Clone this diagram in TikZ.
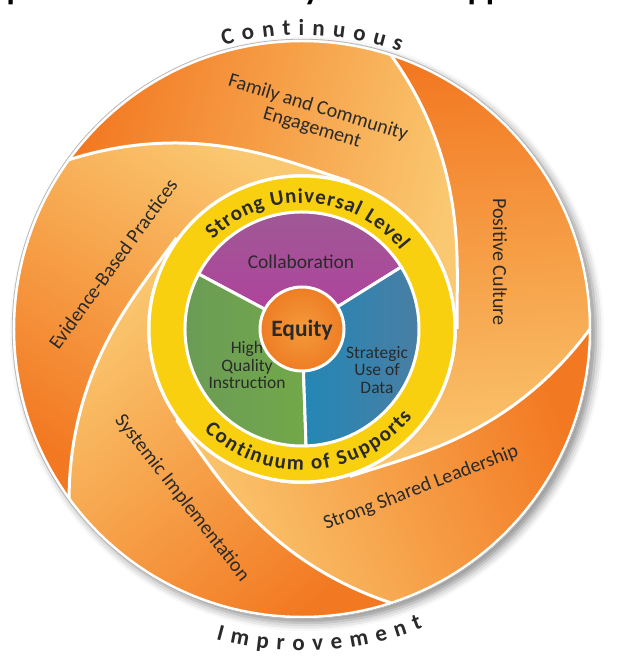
\documentclass[tikz,border=0pt]{standalone}
\usepackage{fontspec}
\setmainfont{Carlito}
\usetikzlibrary{decorations.text,shadows.blur}

\definecolor{bladedark}{HTML}{F27821}
\definecolor{blademid}{HTML}{F6A046}
\definecolor{bladelight}{HTML}{FAC870}
\definecolor{ringgold}{HTML}{F9D00F}
\definecolor{collabtop}{HTML}{9D5C94}
\definecolor{collabbot}{HTML}{B23F9D}
\definecolor{instrleft}{HTML}{6A9A58}
\definecolor{instrright}{HTML}{72A849}
\definecolor{dataleft}{HTML}{2387B6}
\definecolor{dataright}{HTML}{4A7EA3}
\definecolor{equityin}{HTML}{F49A3C}
\definecolor{equityout}{HTML}{EE7D24}
\definecolor{inktext}{HTML}{2A2A2A}

\newcommand{\bladefont}{\fontsize{20}{21}\selectfont}
\newcommand{\piefont}{\fontsize{17.5}{17.5}\selectfont}
\newcommand{\ringfont}{\bfseries\fontsize{21}{21}\selectfont}
\newcommand{\rimfont}{\bfseries\fontsize{23}{23}\selectfont}

\begin{document}
\begin{tikzpicture}[x=1pt, y=1pt,
        blade/.style={top color=bladedark, middle color=blademid,
          bottom color=bladelight, shading angle=#1},
        swirl/.style={draw=white, line width=3pt},
        piesector/.style={draw=white, line width=3pt},
        bladetext/.style={text=inktext, font=\bladefont, align=center, inner sep=0pt},
        pietext/.style={text=inktext, font=\piefont, align=center, inner sep=0pt},
        arctext/.style={decorate, decoration={text along path, text align=fit to path,
          text color=inktext, text={#1}}}
        ]
    % title, cut by the page edge
    \node[anchor=base east, text=black, font=\bfseries\fontsize{34}{34}\selectfont, inner sep=0pt]
        (title) at (258,329.5) {Equitable Multi-Level System of Supports};

    % outer disk with its shadow
    \fill[white, blur shadow={shadow xshift=5pt, shadow yshift=-5pt,
        shadow blur radius=8pt, shadow opacity=45}] (0,0) circle[radius=289];

    % five swirling blades
    \foreach \a [evaluate=\a as \sa using \a+76] in {0,72,144,216,288}
        \shade[blade=\sa] plot[domain=0:1, samples=30, smooth] ({\a+72*\x}:{155+133*\x*\x})
            arc[start angle=\a+72, end angle=\a+144, radius=288]
            -- plot[domain=1:0, samples=30, smooth] ({\a+72+72*\x}:{155+133*\x*\x})
            arc[start angle=\a+72, end angle=\a, radius=155] -- cycle;
    \foreach \a in {0,72,...,288}
        \draw[swirl] plot[domain=0:1, samples=30, smooth] ({\a+72*\x}:{155+133*\x*\x});

    \draw[white, line width=2.5pt] (0,0) circle[radius=288];
    \draw[gray!55, line width=0.8pt] (0,0) circle[radius=289.8];

    % yellow ring
    \fill[ringgold] (0,0) circle[radius=152];
    \draw[white, line width=3pt] (0,0) circle[radius=153];

    % inner pie
    \shadedraw[piesector, top color=collabtop, bottom color=collabbot]
        (0,0) -- (32:117) arc[start angle=32, end angle=152, radius=117] -- cycle;
    \shadedraw[piesector, left color=instrleft, right color=instrright]
        (0,0) -- (152:117) arc[start angle=152, end angle=272, radius=117] -- cycle;
    \shadedraw[piesector, left color=dataleft, right color=dataright]
        (0,0) -- (272:117) arc[start angle=272, end angle=392, radius=117] -- cycle;
    \shadedraw[piesector, inner color=equityin, outer color=equityout] (0,0) circle[radius=42];

    \node[pietext, font=\bfseries\fontsize{23.5}{23.5}\selectfont] (equity) at (0,-1) {Equity};
    \node[pietext, font=\fontsize{19.5}{19.5}\selectfont] (collab) at (-1,67) {Collaboration};
    \node[pietext] (instruction) at (-55,-36) {High\\Quality\\Instruction};
    \node[pietext] (data) at (75,-41) {Strategic\\Use of\\Data};

    % texts on the yellow ring
    \path[arctext={|\ringfont|Strong Universal Level}]
        (135:126) arc[start angle=135, end angle=38.5, radius=126];
    \path[arctext={|\ringfont|Continuum of Supports}]
        (226:141) arc[start angle=226, end angle=321.5, radius=141];

    % blade labels
    \node[bladetext, rotate=-17] (family) at (13,211) {Family and Community\\Engagement};
    \node[bladetext, rotate=-90] (culture) at (198,67) {Positive Culture};
    \node[bladetext, rotate=21] (leadership) at (119,-159) {Strong Shared Leadership};
    \node[bladetext, rotate=-52] (systemic) at (-120,-169) {Systemic Implementation};
    \node[bladetext, rotate=54] (evidence) at (-189,65) {Evidence-Based Practices};

    % rim words
    \path[arctext={|\rimfont|Continuous}]
        (105.5:294) arc[start angle=105.5, end angle=70.5, radius=294];
    \path[arctext={|\rimfont|Improvement}]
        (254.5:322) arc[start angle=254.5, end angle=292, radius=322];

    % page frame
    \pgfresetboundingbox
    \useasboundingbox (-302,-329) rectangle (321,329);
\end{tikzpicture}
\end{document}
